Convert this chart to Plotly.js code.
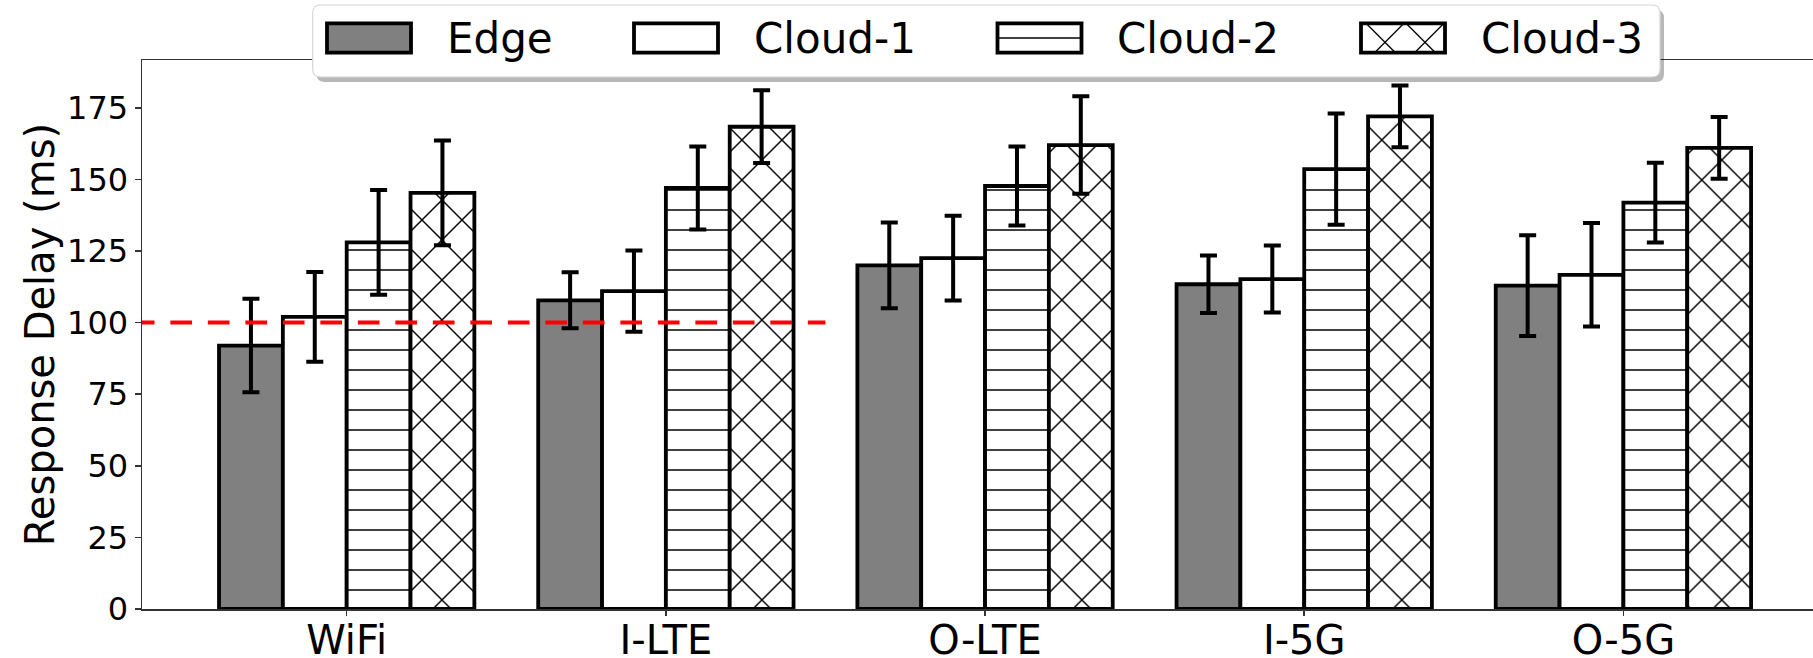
<!DOCTYPE html>
<html>
<head>
<meta charset="utf-8">
<script src="https://cdn.plot.ly/plotly-3.0.1.min.js"></script>
<style>
  html, body { margin: 0; padding: 0; background: #fff; }
  #chart { width: 1813px; height: 658px; }
</style>
</head>
<body>
<div id="chart"></div>
<script>
// ---------------- data ----------------
const categories = ['WiFi', 'I-LTE', 'O-LTE', 'I-5G', 'O-5G'];
const seriesNames = ['Edge', 'Cloud-1', 'Cloud-2', 'Cloud-3'];

const edgeDelay   = [92.0, 107.8, 120.0, 113.4, 112.9];
const edgeErr     = [16.3, 9.8, 15.0, 10.0, 17.6];
const cloud1Delay = [102.0, 111.0, 122.5, 115.2, 116.7];
const cloud1Err   = [15.7, 14.2, 14.8, 11.7, 18.1];
const cloud2Delay = [128.0, 147.0, 147.7, 153.6, 141.9];
const cloud2Err   = [18.3, 14.5, 13.8, 19.4, 13.9];
const cloud3Delay = [145.3, 168.4, 162.0, 172.0, 161.0];
const cloud3Err   = [18.3, 12.7, 17.0, 10.8, 10.8];

// threshold line (100 ms), spanning from the left edge to between I-LTE and O-LTE
const thresholdX = [-0.67, 1.5];
const thresholdY = [100, 100];

const yTickVals = [0, 25, 50, 75, 100, 125, 150, 175];

// ---------------- geometry (pixels) ----------------
const W = 1813, H = 658;
const PL = 142, PR = 1813, PT = 60, PB = 609;
const fx = px => (px - PL) / (PR - PL);
const fy = py => (PB - py) / (PB - PT);

const FONT = 'DejaVu Sans, Liberation Sans, sans-serif';
const BORDER = 3.8;

const errStyle = arr => ({
  type: 'data', array: arr, visible: true,
  color: '#000', thickness: 4, width: 8.5
});

const xIdx = categories.map((c, i) => i);

const traces = [
  {
    type: 'bar', name: seriesNames[0], x: xIdx, y: edgeDelay,
    error_y: errStyle(edgeErr),
    marker: { color: '#808080', line: { color: '#000', width: BORDER } },
    showlegend: false
  },
  {
    type: 'bar', name: seriesNames[1], x: xIdx, y: cloud1Delay,
    error_y: errStyle(cloud1Err),
    marker: { color: '#ffffff', line: { color: '#000', width: BORDER } },
    showlegend: false
  },
  {
    type: 'bar', name: seriesNames[2], x: xIdx, y: cloud2Delay,
    error_y: errStyle(cloud2Err),
    marker: {
      color: '#ffffff', line: { color: '#000', width: BORDER },
      pattern: { shape: '-', fgcolor: '#000', bgcolor: '#ffffff', fillmode: 'replace', size: 20, solidity: 0.075 }
    },
    showlegend: false
  },
  {
    type: 'bar', name: seriesNames[3], x: xIdx, y: cloud3Delay,
    error_y: errStyle(cloud3Err),
    marker: {
      color: '#ffffff', line: { color: '#000', width: BORDER },
      pattern: { shape: 'x', fgcolor: '#000', bgcolor: '#ffffff', fillmode: 'replace', size: 28.28, solidity: 0.1 }
    },
    showlegend: false
  },
  {
    type: 'scatter', mode: 'lines', x: thresholdX, y: thresholdY,
    line: { color: '#ff0000', width: 4, dash: '21.7px,15.8px' },
    hoverinfo: 'skip', showlegend: false
  }
];

// ---------------- custom legend (matplotlib-like, with shadow) ----------------
const shapes = [];
const annotations = [];
const LB = { x0: 312.7, x1: 1660, y0: 5, y1: 77, r: 8 };
function roundedPath(b, dx, dy) {
  const x0 = fx(b.x0 + dx), x1 = fx(b.x1 + dx);
  const y0 = fy(b.y0 + dy), y1 = fy(b.y1 + dy);
  const rx = b.r / (PR - PL), ry = b.r / (PB - PT);
  return `M${x0 + rx},${y0} L${x1 - rx},${y0} Q${x1},${y0} ${x1},${y0 - ry} ` +
         `L${x1},${y1 + ry} Q${x1},${y1} ${x1 - rx},${y1} L${x0 + rx},${y1} ` +
         `Q${x0},${y1} ${x0},${y1 + ry} L${x0},${y0 - ry} Q${x0},${y0} ${x0 + rx},${y0} Z`;
}
shapes.push({ type: 'path', xref: 'paper', yref: 'paper', layer: 'above',
  path: roundedPath(LB, 4, 5), fillcolor: 'rgba(0,0,0,0.28)', line: { width: 0 } });
shapes.push({ type: 'path', xref: 'paper', yref: 'paper', layer: 'above',
  path: roundedPath(LB, 0, 0), fillcolor: '#ffffff', line: { color: '#d6d6d6', width: 1.2 } });

const patchLeft = [327, 634, 997.5, 1361];
const patchW = 84, patchTop = 23.3, patchBot = 52.7;
const patchFill = ['#808080', '#ffffff', '#ffffff', '#ffffff'];
const line = (x0, y0, x1, y1, w) => shapes.push({
  type: 'line', xref: 'paper', yref: 'paper', layer: 'above',
  x0: fx(x0), y0: fy(y0), x1: fx(x1), y1: fy(y1), line: { color: '#000', width: w }
});
patchLeft.forEach((xl, i) => {
  shapes.push({ type: 'rect', xref: 'paper', yref: 'paper', layer: 'above',
    x0: fx(xl), x1: fx(xl + patchW), y0: fy(patchTop), y1: fy(patchBot),
    fillcolor: patchFill[i], line: { color: '#000', width: BORDER } });
  if (i === 2) {
    const ym = (patchTop + patchBot) / 2;
    line(xl, ym, xl + patchW, ym, 1.5);
  }
  if (i === 3) {
    const h = patchBot - patchTop;
    // 45-degree hatch lines with a 40px period, clipped to the patch
    line(xl + 5, patchTop, xl + 5 + h, patchBot, 1.3);
    line(xl + 45, patchTop, xl + 45 + h, patchBot, 1.3);
    line(xl + 43, patchTop, xl + 43 - h, patchBot, 1.3);
    line(xl + 83, patchTop, xl + 83 - h, patchBot, 1.3);
  }
  annotations.push({
    xref: 'paper', yref: 'paper', x: fx(xl + 117.6), y: fy((patchTop + patchBot) / 2),
    xanchor: 'left', yanchor: 'middle', showarrow: false,
    text: seriesNames[i], font: { family: FONT, size: 42, color: '#000' }
  });
});

const layout = {
  width: W, height: H,
  margin: { l: PL, r: W - PR, t: PT, b: H - PB, pad: 0 },
  paper_bgcolor: '#ffffff', plot_bgcolor: '#ffffff',
  barmode: 'group', bargap: 0.2, bargroupgap: 0,
  showlegend: false,
  font: { family: FONT, color: '#000' },
  xaxis: {
    range: [-0.6413, 4.594], tickmode: 'array', tickvals: xIdx, ticktext: categories,
    showgrid: false, zeroline: false,
    showline: true, linecolor: '#333', linewidth: 1.5, mirror: true,
    ticks: 'outside', ticklen: 5, tickwidth: 1.5, tickcolor: '#333',
    ticklabelstandoff: -10,
    tickfont: { family: FONT, size: 40, color: '#000' },
    automargin: false, fixedrange: true
  },
  yaxis: {
    range: [0, 191.7], tickmode: 'array', tickvals: yTickVals,
    showgrid: false, zeroline: false,
    showline: true, linecolor: '#333', linewidth: 1.5,
    ticks: 'outside', ticklen: 6, tickwidth: 1.5, tickcolor: '#333',
    tickfont: { family: FONT, size: 32, color: '#000' },
    title: { text: 'Response Delay (ms)', font: { family: FONT, size: 40, color: '#000' }, standoff: 0 },
    automargin: false, fixedrange: true
  },
  shapes: shapes,
  annotations: annotations
};

Plotly.newPlot('chart', traces, layout, { displayModeBar: false, staticPlot: true });
</script>
</body>
</html>
